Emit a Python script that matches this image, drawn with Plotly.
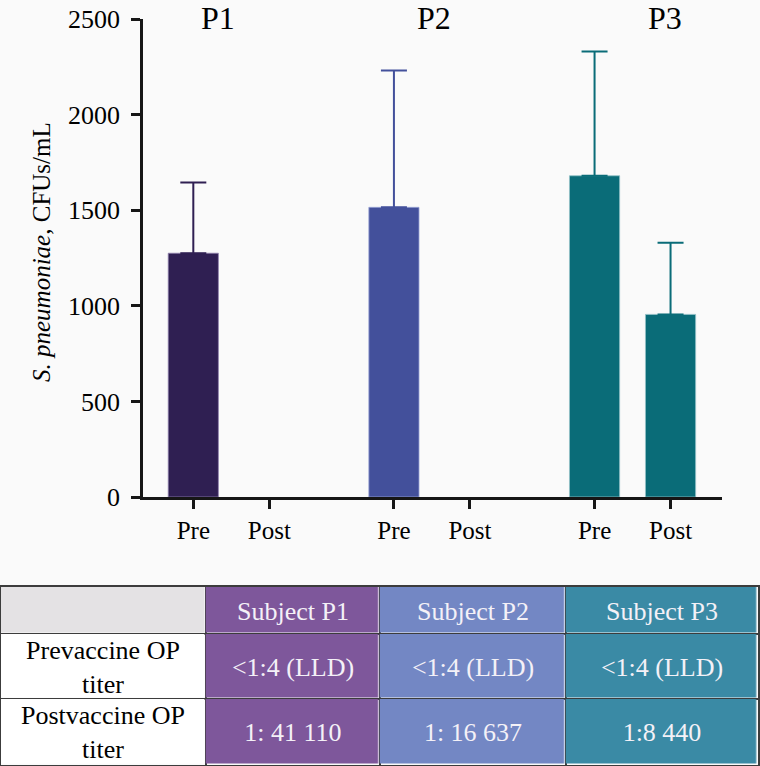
import numpy as np
import plotly.graph_objects as go

# ── Dados ─────────────────────────────────────────────────────────────────────

subjects = ["P1", "P2", "P3"]
phases = ["Pre", "Post"]
cfu_pre = [1275, 1515, 1680]
cfu_post = [0, 0, 955]
err_pre = [370, 715, 650]
err_post = [None, None, 375]

header_labels = ["Subject P1", "Subject P2", "Subject P3"]
row_labels = ["Prevaccine OP<br>titer", "Postvaccine OP<br>titer"]
pre_titer = ["&lt;1:4 (LLD)", "&lt;1:4 (LLD)", "&lt;1:4 (LLD)"]
post_titer = ["1: 41 110", "1: 16 637", "1:8 440"]

# ── Estilo ────────────────────────────────────────────────────────────────────

bar_colors = ["#2f1f52", "#43509b", "#0a6c78"]
bar_edges = ["#8f82ad", "#98a2d6", "#93c2c8"]
cell_colors = ["#7e579b", "#7387c4", "#3a8aa5"]
group_gap = 2.64
label_offsets = [0.33, 0.53, 0.93]
col_widths = [204.7, 174.3, 186, 192]
row_heights = [47, 65, 66]
FONT = "Liberation Serif"
W, H = 760, 766
bg = "#fafafa"
axis_col = "#161616"
grid_col = "#3c3c3c"

fig = go.Figure()

# ── Barras ────────────────────────────────────────────────────────────────────

tick_vals, tick_text = [], []
for i, s in enumerate(subjects):
    xs = [i * group_gap + j for j in range(len(phases))]
    tick_vals += xs
    tick_text += phases
    ys = [cfu_pre[i], cfu_post[i]]
    # NaN (e não null) para que o Plotly não desenhe barra de erro em zero
    err = np.array([err_pre[i], err_post[i]], dtype=float)
    fig.add_trace(go.Bar(
        x=xs, y=ys, width=0.66,
        marker=dict(color=bar_colors[i],
                    line=dict(color=bar_edges[i], width=[0.8 if v > 0 else 0 for v in ys])),
        error_y=dict(type="data", symmetric=False, array=err,
                     color=bar_colors[i], thickness=2, width=13),
        name=s, showlegend=False, hoverinfo="skip",
    ))

# ── Tabela (heatmaps num segundo par de eixos) ───────────────────────────────

x_edges = [0]
for w in col_widths:
    x_edges.append(x_edges[-1] + w)
y_edges = [0]
for h in row_heights:
    y_edges.append(y_edges[-1] + h)

fig.add_trace(go.Heatmap(
    x=x_edges[:2], y=y_edges, z=[[0], [1], [1]],
    colorscale=[[0, "#e4e2e4"], [1, "#ffffff"]], zmin=0, zmax=1, showscale=False,
    text=[[""]] + [[r] for r in row_labels], texttemplate="%{text}",
    textfont=dict(family=FONT, size=26, color="black"),
    xgap=1.5, ygap=1.5, xaxis="x2", yaxis="y2", hoverinfo="skip",
))
fig.add_trace(go.Heatmap(
    x=x_edges[1:], y=y_edges, z=[[0, 1, 2]] * 3,
    colorscale=[[0, cell_colors[0]], [0.5, cell_colors[1]], [1, cell_colors[2]]],
    zmin=0, zmax=2, showscale=False,
    text=[header_labels, pre_titer, post_titer], texttemplate="%{text}",
    textfont=dict(family=FONT, size=26, color="#f4f1f7"),
    xgap=1.5, ygap=1.5, xaxis="x2", yaxis="y2", hoverinfo="skip",
))

axis_style = dict(showline=True, linewidth=2.5, linecolor=axis_col, ticks="outside",
                  ticklen=9, tickwidth=2.5, tickcolor=axis_col, showgrid=False,
                  zeroline=False, automargin=False)

table_axis = dict(showline=True, mirror=True, linewidth=1.5, linecolor=grid_col,
                  showgrid=True, gridcolor=grid_col, gridwidth=1.5, zeroline=False,
                  showticklabels=False, ticks="", automargin=False)

fig.update_layout(
    width=W, height=H, margin=dict(l=0, r=0, t=0, b=0),
    paper_bgcolor=bg, plot_bgcolor=bg,
    xaxis=dict(domain=[143 / W, 722 / W], range=[-0.662, 6.957],
               tickvals=tick_vals, ticktext=tick_text,
               tickfont=dict(family=FONT, size=25, color="black"), **axis_style),
    yaxis=dict(domain=[1 - 497 / H, 1 - 19 / H], range=[0, 2500],
               tickvals=[0, 500, 1000, 1500, 2000, 2500], ticklabelstandoff=6,
               tickfont=dict(family=FONT, size=26, color="black"), **axis_style),
    xaxis2=dict(domain=[1 / W, 758 / W], range=[0, x_edges[-1]], tickvals=x_edges,
                anchor="y2", **table_axis),
    yaxis2=dict(domain=[1 - 765 / H, 1 - 587 / H], range=[y_edges[-1], 0], tickvals=y_edges,
                anchor="x2", **table_axis),
)

for i, s in enumerate(subjects):
    fig.add_annotation(x=i * group_gap + label_offsets[i], y=1 - 18 / H, xref="x", yref="paper",
                       xanchor="center", yanchor="middle",
                       text=s, showarrow=False, font=dict(family=FONT, size=32, color="black"))

fig.add_annotation(x=42 / W, y=1 - 252 / H, xref="paper", yref="paper", textangle=-90,
                   xanchor="center", yanchor="middle",
                   text="<i>S. pneumoniae</i>, CFUs/mL", showarrow=False,
                   font=dict(family=FONT, size=25, color="black"))

fig.write_html("out.html", config={"displayModeBar": False},
               post_script="document.body.style.margin = '0';")
